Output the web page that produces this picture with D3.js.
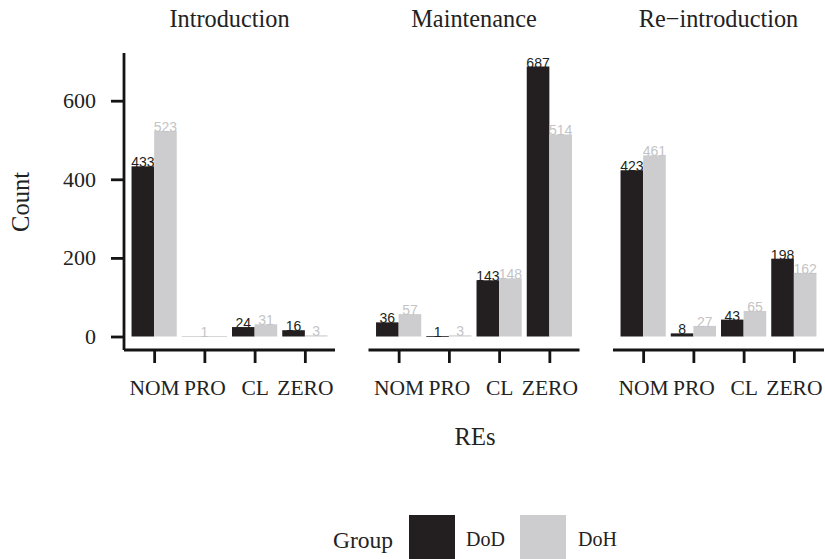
<!DOCTYPE html>
<html>
<head>
<meta charset="utf-8">
<script src="https://cdn.jsdelivr.net/npm/d3@7"></script>
<style>
  html, body { margin: 0; padding: 0; background: #ffffff; }
  svg { display: block; }
</style>
</head>
<body>
<svg id="chart" width="825" height="559"></svg>
<script>
// Counts of REs per phase and group
const phases = ["Introduction", "Maintenance", "Re\u2212introduction"];
const categories = ["NOM", "PRO", "CL", "ZERO"];
const groups = ["DoD", "DoH"];
// null = no observation for that group (the other bar takes the full slot)
const dodValues = [
  [433, null, 24, 16],
  [36, 1, 143, 687],
  [423, 8, 43, 198]
];
const dohValues = [
  [523, 1, 31, 3],
  [57, 3, 148, 514],
  [461, 27, 65, 162]
];
const yTicks = [0, 200, 400, 600];

const colors = { DoD: "#231f20", DoH: "#cdcdcf" };
const serif = "'Liberation Serif', 'Times New Roman', serif";
const sans = "'Liberation Sans', Arial, sans-serif";
const axisColor = "#141414";

const svg = d3.select("#chart");

const panelW = 211, panelGap = 33.5, panelX0 = 124;
const panelTop = 53, panelBottom = 350;

const maxVal = d3.max([...dodValues.flat(), ...dohValues.flat()].filter(v => v != null));
const y = d3.scaleLinear()
  .domain([-0.05 * maxVal, 1.05 * maxVal])
  .range([panelBottom, panelTop]);

phases.forEach((phase, p) => {
  const x0 = panelX0 + p * (panelW + panelGap);
  // discrete axis with 0.6-step expansion on each side
  const step = panelW / 4.2;
  const cx = d3.scalePoint().domain(categories)
    .range([x0 + 0.6 * step, x0 + panelW - 0.6 * step]);
  const dodgeW = 0.9 * step;

  const g = svg.append("g");

  // bars and value labels
  categories.forEach((cat, i) => {
    const vals = [dodValues[p][i], dohValues[p][i]];
    const present = groups.map((grp, k) => ({ grp, v: vals[k] })).filter(d => d.v != null);
    const sub = d3.scaleBand().domain(present.map(d => d.grp))
      .range([cx(cat) - dodgeW / 2, cx(cat) + dodgeW / 2]);
    const bw = sub.bandwidth();
    present.forEach(d => {
      g.append("rect")
        .attr("x", sub(d.grp))
        .attr("width", bw)
        .attr("y", y(d.v))
        .attr("height", Math.max(0.8, y(0) - y(d.v)))
        .attr("fill", colors[d.grp]);
      g.append("text")
        .attr("x", sub(d.grp) + bw / 2)
        .attr("y", y(d.v) + 1)
        .attr("text-anchor", "middle")
        .attr("font-family", sans)
        .attr("font-size", 14)
        .attr("fill", d.grp === "DoD" ? "#231f20" : "#c4c4c6")
        .text(d.v);
    });
  });

  // x axis
  const xAxis = g.append("g").attr("transform", `translate(0,${panelBottom})`)
    .call(d3.axisBottom(cx).tickSize(13).tickPadding(17));
  xAxis.select(".domain").attr("d", `M${x0},0H${x0 + panelW}`)
    .attr("stroke", axisColor).attr("stroke-width", 2.8);
  xAxis.selectAll(".tick line").attr("stroke", axisColor).attr("stroke-width", 2.8);
  xAxis.selectAll(".tick text")
    .attr("font-family", serif).attr("font-size", 21.5).attr("fill", "#222");

  // strip title
  svg.append("text")
    .attr("x", x0 + panelW / 2).attr("y", 27)
    .attr("text-anchor", "middle")
    .attr("font-family", serif).attr("font-size", 24.3).attr("fill", "#222")
    .text(phase);
});

// y axis on first panel
const yAxis = svg.append("g").attr("transform", `translate(${panelX0},0)`)
  .call(d3.axisLeft(y).tickValues(yTicks).tickSize(13).tickPadding(15));
yAxis.select(".domain").attr("d", `M0,${panelTop}V${panelBottom}`)
  .attr("stroke", axisColor).attr("stroke-width", 2.8);
yAxis.selectAll(".tick line").attr("stroke", axisColor).attr("stroke-width", 2.8);
yAxis.selectAll(".tick text")
  .attr("font-family", serif).attr("font-size", 22).attr("fill", "#222");

// axis titles
svg.append("text")
  .attr("transform", "translate(29,202) rotate(-90)")
  .attr("text-anchor", "middle")
  .attr("font-family", serif).attr("font-size", 24.5).attr("fill", "#222")
  .text("Count");
svg.append("text")
  .attr("x", 475).attr("y", 445)
  .attr("text-anchor", "middle")
  .attr("font-family", serif).attr("font-size", 24.5).attr("fill", "#222")
  .text("REs");

// legend
const legend = svg.append("g");
legend.append("text")
  .attr("x", 393).attr("y", 548)
  .attr("text-anchor", "end")
  .attr("font-family", serif).attr("font-size", 23.5).attr("fill", "#222")
  .text("Group");
const keyX = [409, 520];
const labelX = [466, 578];
groups.forEach((grp, k) => {
  legend.append("rect")
    .attr("x", keyX[k]).attr("y", 515)
    .attr("width", 46).attr("height", 46)
    .attr("fill", colors[grp]);
  legend.append("text")
    .attr("x", labelX[k]).attr("y", 546)
    .attr("font-family", serif).attr("font-size", 20).attr("fill", "#222")
    .text(grp);
});
</script>
</body>
</html>
